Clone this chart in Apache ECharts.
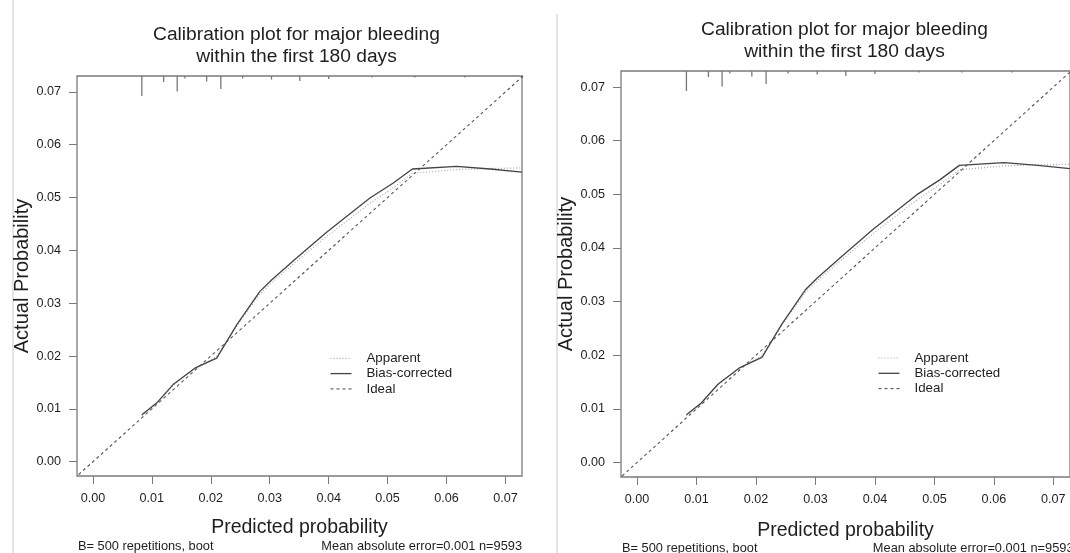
<!DOCTYPE html>
<html><head><meta charset="utf-8">
<script src="https://cdn.jsdelivr.net/npm/echarts@6/dist/echarts.min.js"></script>
<style>html,body{margin:0;padding:0;background:#fff}#c{width:1070px;height:553px}</style>
</head><body><div id="c"></div>
<script>
// ---- data ----
const predicted     = [0.0083, 0.0108, 0.0136, 0.0173, 0.0210, 0.0244, 0.0283, 0.0303, 0.0345, 0.0396, 0.0470, 0.0509, 0.0542, 0.0617, 0.0674, 0.0728];
const apparent      = [0.0087, 0.0110, 0.0145, 0.0177, 0.0199, 0.0257, 0.0317, 0.0339, 0.0379, 0.0426, 0.0489, 0.0518, 0.0546, 0.0553, 0.0555, 0.0556];
const biasCorrected = [0.0089, 0.0111, 0.0146, 0.0177, 0.0196, 0.0259, 0.0322, 0.0344, 0.0385, 0.0434, 0.0499, 0.0527, 0.0554, 0.0559, 0.0554, 0.0548];
const idealLine     = [-0.01, 0.08];
const rugPredicted  = [0.0083, 0.0120, 0.0143, 0.0156, 0.0193, 0.0217, 0.0254, 0.0303, 0.0351, 0.0400, 0.0474, 0.0546, 0.0631];
const rugFreq       = [1.00, 0.30, 0.78, 0.12, 0.28, 0.65, 0.12, 0.18, 0.25, 0.15, 0.08, 0.08, 0.08];
const tickValues    = [0.00, 0.01, 0.02, 0.03, 0.04, 0.05, 0.06, 0.07];
const legendNames   = ['Apparent', 'Bias-corrected', 'Ideal'];
const titleLines    = ['Calibration plot for major bleeding', 'within the first 180 days'];
const xTitle = 'Predicted probability';
const yTitle = 'Actual Probability';
const noteLeft  = 'B= 500 repetitions, boot';
const noteRight = 'Mean absolute error=0.001 n=9593';

// ---- layout ----
const FONT = '"Liberation Sans", Arial, sans-serif';
const TXT = '#1e1e1e';
const panels = [
  { grid: {left: 77, top: 76, width: 445, height: 400}, tx: 296.5, ty: [35, 57], lg: {x: 330.5, y: 358.3}, ny: 546, xGap: 42, yGap: 45 },
  { grid: {left: 621, top: 71, width: 452.5, height: 406}, tx: 844.5, ty: [29.5, 51.5], lg: {x: 878.5, y: 358}, ny: 548, xGap: 44, yGap: 45 }
];
const XMIN = -0.0027, XMAX = 0.0728, YMIN = -0.0027, YMAX = 0.0730;
const RUG_LEN = 20;
const LEG_ROW = 15.3, LEG_W = 21, LEG_TXT = 36;

const chart = echarts.init(document.getElementById('c'), null, {renderer: 'canvas'});

const grids = [], xAxes = [], yAxes = [], series = [], graphics = [];
const lineStyles = {
  'Apparent':       {color: '#a8a8a8', width: 1.2, type: [1, 2]},
  'Bias-corrected': {color: '#444444', width: 1.3, type: 'solid'},
  'Ideal':          {color: '#555555', width: 1.1, type: [3, 3]}
};
panels.forEach((p, i) => {
  grids.push(Object.assign({show: true, borderColor: '#7a7a7a', borderWidth: 1.3, backgroundColor: 'transparent'}, p.grid));
  const axCommon = {
    type: 'value', gridIndex: i,
    axisLine: {show: false, onZero: false},
    splitLine: {show: false},
    axisTick: {show: true, length: 8, lineStyle: {color: '#7a7a7a', width: 1}, customValues: tickValues},
    axisLabel: {show: true, customValues: tickValues, fontFamily: FONT, fontSize: 12.6, color: TXT, margin: 16, formatter: v => v.toFixed(2)},
    nameLocation: 'middle'
  };
  xAxes.push(Object.assign({}, axCommon, {
    position: 'bottom',
    min: XMIN, max: XMAX, name: xTitle, nameGap: p.xGap,
    nameTextStyle: {fontFamily: FONT, color: TXT, fontSize: 19.5}
  }));
  yAxes.push(Object.assign({}, axCommon, {
    position: 'left',
    min: YMIN, max: YMAX, name: yTitle, nameGap: p.yGap,
    nameTextStyle: {fontFamily: FONT, color: TXT, fontSize: 20}
  }));
  const mk = (name, ys) => ({
    type: 'line', name, xAxisIndex: i, yAxisIndex: i, symbol: 'none', silent: true, animation: false,
    lineStyle: lineStyles[name], itemStyle: {color: lineStyles[name].color},
    data: predicted.map((x, k) => [x, ys[k]])
  });
  series.push(mk('Apparent', apparent));
  series.push(mk('Bias-corrected', biasCorrected));
  series.push({
    type: 'line', name: 'Ideal', xAxisIndex: i, yAxisIndex: i, symbol: 'none', silent: true, animation: false,
    lineStyle: lineStyles['Ideal'], itemStyle: {color: lineStyles['Ideal'].color},
    data: idealLine.map(v => [v, v])
  });
  series.push({
    type: 'custom', name: 'rug', xAxisIndex: i, yAxisIndex: i, silent: true, animation: false,
    data: rugPredicted.map((x, k) => [x, rugFreq[k]]),
    renderItem: (params, api) => {
      const x = api.coord([api.value(0), 0])[0];
      const top = params.coordSys.y;
      return {type: 'line', shape: {x1: x, y1: top, x2: x, y2: top + api.value(1) * RUG_LEN},
              style: {stroke: '#777', lineWidth: 1.3}};
    }
  });
  // legend (drawn as graphic: line sample + label)
  legendNames.forEach((name, k) => {
    const ls = lineStyles[name];
    const y = p.lg.y + k * LEG_ROW;
    graphics.push({type: 'line', silent: true, shape: {x1: p.lg.x, y1: y, x2: p.lg.x + LEG_W, y2: y},
      style: {stroke: ls.color, lineWidth: ls.width, lineDash: ls.type === 'solid' ? null : ls.type}});
    graphics.push({type: 'text', silent: true, x: p.lg.x + LEG_TXT, y: y,
      style: {text: name, fontFamily: FONT, fontSize: 13.3, fill: TXT, align: 'left', verticalAlign: 'middle'}});
  });
  titleLines.forEach((t, k) => graphics.push({
    type: 'text', x: p.tx, y: p.ty[k], silent: true,
    style: {text: t, fontFamily: FONT, fontSize: 19.2, fill: TXT, align: 'center', verticalAlign: 'middle'}
  }));
  graphics.push({type: 'text', x: p.grid.left + 1, y: p.ny, silent: true,
    style: {text: noteLeft, fontFamily: FONT, fontSize: 12.8, fill: TXT, align: 'left', verticalAlign: 'middle'}});
  graphics.push({type: 'text', x: p.grid.left + p.grid.width, y: p.ny, silent: true,
    style: {text: noteRight, fontFamily: FONT, fontSize: 12.8, fill: TXT, align: 'right', verticalAlign: 'middle'}});
});
graphics.push({type: 'line', silent: true, shape: {x1: 13, y1: 0, x2: 13, y2: 553}, style: {stroke: '#e4e4e4', lineWidth: 2}});
graphics.push({type: 'line', silent: true, shape: {x1: 557, y1: 14, x2: 557, y2: 553}, style: {stroke: '#e4e4e4', lineWidth: 2}});

chart.setOption({
  animation: false,
  backgroundColor: '#fff',
  grid: grids, xAxis: xAxes, yAxis: yAxes, series, graphic: graphics
});
</script></body></html>
